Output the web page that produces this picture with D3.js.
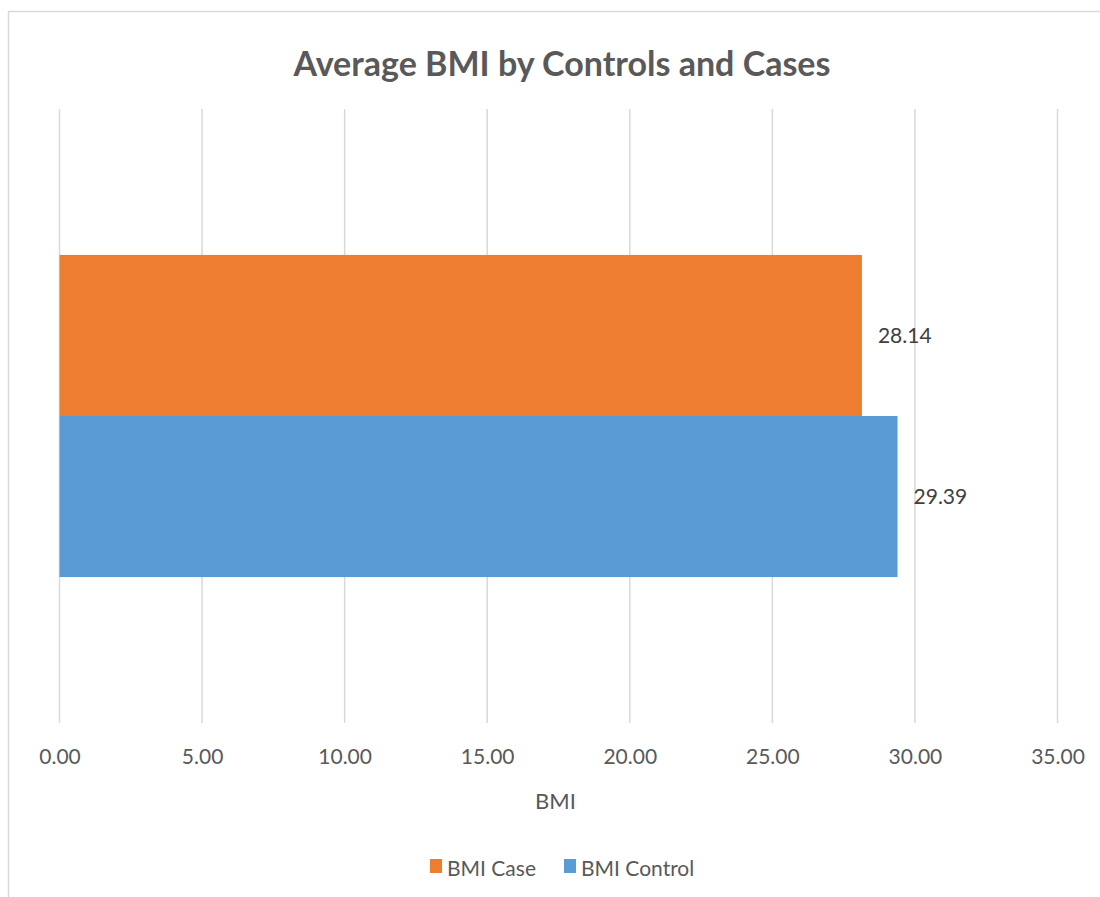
<!DOCTYPE html>
<html>
<head>
<meta charset="utf-8">
<script src="https://cdn.jsdelivr.net/npm/d3@7"></script>
<style>
  html, body { margin: 0; padding: 0; background: #fff; }
  svg { display: block; font-family: Lato, "Open Sans", sans-serif; }
</style>
</head>
<body>
<svg id="chart" width="1100" height="897"></svg>
<script>
// Average BMI for each group
const seriesNames = ["BMI Case", "BMI Control"];
const seriesValues = [28.14, 29.39];
const seriesColors = ["#ED7D31", "#5B9BD5"];
const categories = ["BMI"];
const tickValues = [0, 5, 10, 15, 20, 25, 30, 35];

const svg = d3.select("#chart");
const W = 1100, H = 897;

// chart frame (extends past the right and bottom edges)
svg.append("rect")
  .attr("x", 8.5).attr("y", 11.5)
  .attr("width", W + 20).attr("height", H + 20)
  .attr("fill", "#fff").attr("stroke", "#D9D9D9").attr("stroke-width", 1.5);

const plot = { left: 59.5, right: 1057.5, top: 109, bottom: 723 };

const x = d3.scaleLinear().domain([0, 35]).range([plot.left, plot.right]);

const y = d3.scaleBand().domain(categories).range([plot.top, plot.bottom]).padding(0);
const inner = d3.scaleBand().domain(seriesNames)
  .range([0, y.bandwidth()]).paddingOuter(0.906).paddingInner(0);

// gridlines
svg.append("g")
  .selectAll("line")
  .data(tickValues)
  .join("line")
  .attr("x1", d => x(d)).attr("x2", d => x(d))
  .attr("y1", plot.top).attr("y2", plot.bottom)
  .attr("stroke", "#D9D9D9").attr("stroke-width", 1.5);

// bars
const rows = seriesNames.map((s, i) => ({ name: s, value: seriesValues[i], color: seriesColors[i] }));
const g = svg.append("g").attr("transform", `translate(0,${y(categories[0])})`);
g.selectAll("rect")
  .data(rows)
  .join("rect")
  .attr("x", x(0))
  .attr("y", d => inner(d.name))
  .attr("width", d => x(d.value) - x(0))
  .attr("height", inner.bandwidth())
  .attr("fill", d => d.color);

// value labels
g.selectAll("text")
  .data(rows)
  .join("text")
  .attr("x", d => x(d.value) + 16)
  .attr("y", d => inner(d.name) + inner.bandwidth() / 2)
  .attr("dy", "0.35em")
  .attr("fill", "#404040")
  .attr("font-size", 21)
  .text(d => d.value.toFixed(2));

// x axis tick labels
const axis = d3.axisBottom(x).tickValues(tickValues).tickSize(0).tickPadding(0)
  .tickFormat(d3.format(".2f"));
const ax = svg.append("g").attr("transform", `translate(0,${plot.bottom + 26})`).call(axis);
ax.select(".domain").remove();
ax.selectAll("text")
  .attr("font-size", 21).attr("font-family", "Lato, 'Open Sans', sans-serif")
  .attr("fill", "#595959").attr("dy", "0.71em");

// axis title
svg.append("text")
  .attr("x", x(0) + (x(35) - x(0)) / 2 - 3).attr("y", 801)
  .attr("dy", "0.35em").attr("text-anchor", "middle")
  .attr("font-size", 22).attr("fill", "#595959")
  .text("BMI");

// title
svg.append("text")
  .attr("x", 562).attr("y", 64)
  .attr("dy", "0.35em").attr("text-anchor", "middle")
  .attr("font-size", 34).attr("font-weight", "bold").attr("fill", "#595959")
  .text("Average BMI by Controls and Cases");

// legend
const legendItems = [
  { name: seriesNames[0], color: seriesColors[0], x: 430 },
  { name: seriesNames[1], color: seriesColors[1], x: 564 }
];
const lg = svg.append("g").selectAll("g").data(legendItems).join("g")
  .attr("transform", d => `translate(${d.x},869)`);
lg.append("rect").attr("x", 0).attr("y", -10).attr("width", 12).attr("height", 14)
  .attr("fill", d => d.color);
lg.append("text").attr("x", 17).attr("y", 0).attr("dy", "0.35em")
  .attr("font-size", 21).attr("fill", "#595959").text(d => d.name);
</script>
</body>
</html>
